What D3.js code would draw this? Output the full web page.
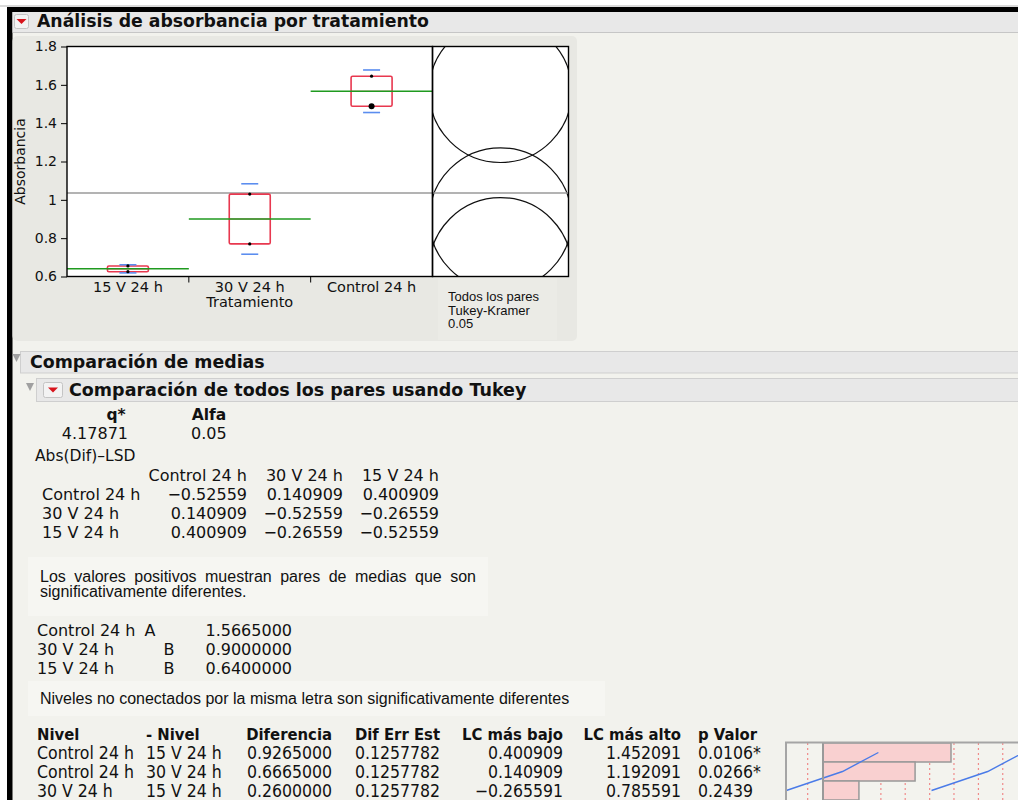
<!DOCTYPE html>
<html>
<head>
<meta charset="utf-8">
<script src="https://cdn.jsdelivr.net/npm/d3@7"></script>
<style>
  body { margin: 0; background: #f2f2ed; }
  svg { display: block; }
  text { font-family: "DejaVu Sans", "Lucida Grande", sans-serif; fill: #111; }
  .sans { font-family: "Liberation Sans", Arial, sans-serif; }
  .cond { font-family: "DejaVu Sans Condensed", "DejaVu Sans", sans-serif; font-stretch: condensed; }
</style>
</head>
<body>
<svg id="report" width="1018" height="800"></svg>
<script>
// ---- data -------------------------------------------------------------
const categories   = ["15 V 24 h", "30 V 24 h", "Control 24 h"];
const observations = [[0.655, 0.625], [1.03, 0.77], [1.645, 1.488]];
const groupMeans   = [0.64, 0.90, 1.5665];
const groupStdDevs = [0.0212, 0.1838, 0.1110];
const grandMean    = 1.0355;
const circleRadius = 0.3716;          // Tukey comparison circle radius (LSD / sqrt 2)
const yTicks       = [0.6, 0.8, 1.0, 1.2, 1.4, 1.6, 1.8];

const qStar = 4.17871;
const alpha = 0.05;

const lsdLevels = ["Control 24 h", "30 V 24 h", "15 V 24 h"];
const lsdMatrix = [
  [-0.52559, 0.140909, 0.400909],
  [0.140909, -0.52559, -0.26559],
  [0.400909, -0.26559, -0.52559]
];

const letterLevels = ["Control 24 h", "30 V 24 h", "15 V 24 h"];
const letterA      = ["A", "", ""];
const letterB      = ["", "B", "B"];
const letterMeans  = [1.5665, 0.9, 0.64];

const diffLevel  = ["Control 24 h", "Control 24 h", "30 V 24 h"];
const diffMinus  = ["15 V 24 h", "30 V 24 h", "15 V 24 h"];
const diffValue  = [0.9265, 0.6665, 0.26];
const diffStdErr = [0.1257782, 0.1257782, 0.1257782];
const diffLower  = [0.400909, 0.140909, -0.265591];
const diffUpper  = [1.452091, 1.192091, 0.785591];
const diffP      = [0.0106, 0.0266, 0.2439];
const diffRefs   = [-0.111, 0.066, 0.242, 0.419, 0.595, 0.772, 0.948, 1.125, 1.301];

// ---- helpers ----------------------------------------------------------
const fmtSigned = v => (v < 0 ? "\u2212" : "") + String(Math.abs(v));
const fmtFixed7 = v => (v < 0 ? "\u2212" : "") + Math.abs(v).toFixed(7);

const svg = d3.select("#report");

// ---- window chrome ----------------------------------------------------
svg.append("rect").attr("x", 0).attr("y", 0).attr("width", 1018).attr("height", 7).attr("fill", "#fff");
svg.append("rect").attr("x", 0).attr("y", 0).attr("width", 7).attr("height", 800).attr("fill", "#fff");
svg.append("line").attr("x1", 0).attr("x2", 1018).attr("y1", 6).attr("y2", 6).attr("stroke", "#b5b5b5");
svg.append("rect").attr("x", 7).attr("y", 7).attr("width", 1011).attr("height", 5).attr("fill", "#000");
svg.append("rect").attr("x", 7).attr("y", 7).attr("width", 5.5).attr("height", 793).attr("fill", "#000");

function outlineHeader(x, y, w, h) {
  svg.append("rect").attr("x", x).attr("y", y).attr("width", w).attr("height", h)
    .attr("fill", "#e8e8e8").attr("stroke", "#cfcfcf");
}
function redMenu(x, y, w, h) {
  svg.append("rect").attr("x", x).attr("y", y).attr("width", w).attr("height", h).attr("rx", 2)
    .attr("fill", "#f3f3f3").attr("stroke", "#c4c4c4");
  const cx = x + w / 2, cy = y + h / 2;
  svg.append("path").attr("d", `M${cx - 5},${cy - 2.5}L${cx + 5},${cy - 2.5}L${cx},${cy + 2.5}Z`).attr("fill", "#d8141c");
}
function greyTriangle(x, y) {
  svg.append("path").attr("d", `M${x},${y}L${x + 8},${y}L${x + 4},${y + 8}Z`).attr("fill", "#a0a0a0");
}

// main header
svg.append("rect").attr("x", 12.5).attr("y", 12).attr("width", 1006).attr("height", 20).attr("fill", "#e8e8e8");
svg.append("line").attr("x1", 12.5).attr("x2", 1018).attr("y1", 32.5).attr("y2", 32.5).attr("stroke", "#c6c6c6");
redMenu(14.5, 14.5, 14, 14);
svg.append("text").attr("x", 37).attr("y", 27).attr("font-size", 17.3).attr("font-weight", "bold")
  .text("Análisis de absorbancia por tratamiento");

// ---- chart panel ------------------------------------------------------
svg.append("rect").attr("x", 12.5).attr("y", 36).attr("width", 564.5).attr("height", 305).attr("rx", 5)
  .attr("fill", "#e8e8e3");
svg.append("rect").attr("x", 438).attr("y", 278).attr("width", 119).attr("height", 62).attr("fill", "#ebebe6");

const plotLeft = 67, plotRight = 432.5, circRight = 568.5, plotTop = 46.5, plotBottom = 276.5;

const y = d3.scaleLinear().domain([0.6, 1.8]).range([plotBottom, plotTop]);
const x = d3.scaleBand().domain(categories).range([plotLeft, plotRight]);

svg.append("rect").attr("x", plotLeft).attr("y", plotTop).attr("width", circRight - plotLeft)
  .attr("height", plotBottom - plotTop).attr("fill", "#fff");

// comparison circles panel
const circCx = (plotRight + circRight) / 2;
const pxPerUnit = y(0) - y(1);
svg.append("clipPath").attr("id", "circClip").append("rect")
  .attr("x", plotRight).attr("y", plotTop).attr("width", circRight - plotRight).attr("height", plotBottom - plotTop);
svg.append("g").attr("clip-path", "url(#circClip)")
  .selectAll("circle").data(groupMeans).join("circle")
  .attr("cx", circCx).attr("cy", d => y(d)).attr("r", circleRadius * pxPerUnit)
  .attr("fill", "none").attr("stroke", "#111").attr("stroke-width", 1.2);

// grand mean
svg.append("line").attr("x1", plotLeft).attr("x2", circRight).attr("y1", y(grandMean)).attr("y2", y(grandMean))
  .attr("stroke", "#9a9a9a").attr("stroke-width", 1.5);

// group marks
const boxW = 41, sdW = 17;
const groups = svg.append("g").selectAll("g").data(categories).join("g");
groups.each(function (cat, i) {
  const g = d3.select(this);
  const cx = x(cat) + x.bandwidth() / 2;
  const lo = d3.min(observations[i]), hi = d3.max(observations[i]);
  // quantile box
  g.append("rect").attr("x", cx - boxW / 2).attr("y", y(hi)).attr("width", boxW).attr("height", y(lo) - y(hi))
    .attr("rx", 1.5).attr("fill", "none").attr("stroke", "#e8384f").attr("stroke-width", 1.6);
  g.append("line").attr("x1", cx - boxW / 2).attr("x2", cx + boxW / 2)
    .attr("y1", y(d3.median(observations[i]))).attr("y2", y(d3.median(observations[i])))
    .attr("stroke", "#e8384f").attr("stroke-width", 1.2);
  // std dev lines
  [groupMeans[i] - groupStdDevs[i], groupMeans[i] + groupStdDevs[i]].forEach(v => {
    g.append("line").attr("x1", cx - sdW / 2).attr("x2", cx + sdW / 2).attr("y1", y(v)).attr("y2", y(v))
      .attr("stroke", "#5b8def").attr("stroke-width", 1.6);
  });
  // mean line across the level
  g.append("line").attr("x1", x(cat)).attr("x2", x(cat) + x.bandwidth())
    .attr("y1", y(groupMeans[i])).attr("y2", y(groupMeans[i]))
    .attr("stroke", "#1f9a1f").attr("stroke-width", 1.5);
  // observations
  g.selectAll("circle").data(observations[i]).join("circle")
    .attr("cx", cx).attr("cy", d => y(d))
    .attr("r", (d, j) => (cat === "Control 24 h" && j === 1) ? 3 : 1.6)
    .attr("fill", "#000");
});

// frames
svg.append("rect").attr("x", plotLeft).attr("y", plotTop).attr("width", plotRight - plotLeft)
  .attr("height", plotBottom - plotTop).attr("fill", "none").attr("stroke", "#000").attr("stroke-width", 1.4);
svg.append("rect").attr("x", plotRight).attr("y", plotTop).attr("width", circRight - plotRight)
  .attr("height", plotBottom - plotTop).attr("fill", "none").attr("stroke", "#000").attr("stroke-width", 1.4);

// y axis
const yAxis = svg.append("g").attr("transform", `translate(${plotLeft},0)`)
  .call(d3.axisLeft(y).tickValues(yTicks).tickSize(6).tickPadding(4).tickFormat(d => String(+d.toFixed(1))));
yAxis.select(".domain").remove();
yAxis.selectAll("line").attr("stroke", "#000");
yAxis.selectAll("text").attr("font-size", 14).attr("font-family", "DejaVu Sans").attr("fill", "#111");

svg.append("text").attr("transform", `translate(25,${(plotTop + plotBottom) / 2}) rotate(-90)`)
  .attr("text-anchor", "middle").attr("font-size", 14).text("Absorbancia");

// x axis
svg.append("g").selectAll("line").data(categories.slice(1)).join("line")
  .attr("x1", d => x(d)).attr("x2", d => x(d)).attr("y1", plotBottom).attr("y2", plotBottom + 6)
  .attr("stroke", "#000");
svg.append("g").selectAll("text").data(categories).join("text")
  .attr("x", d => x(d) + x.bandwidth() / 2).attr("y", 292).attr("text-anchor", "middle")
  .attr("font-size", 14.5).text(d => d);
svg.append("text").attr("x", x("30 V 24 h") + x.bandwidth() / 2).attr("y", 307).attr("text-anchor", "middle")
  .attr("font-size", 14.5).text("Tratamiento");

// circle panel caption
["Todos los pares", "Tukey-Kramer", String(alpha)].forEach((t, i) => {
  svg.append("text").attr("class", "sans").attr("x", 448).attr("y", 301 + i * 13.5).attr("font-size", 13).text(t);
});

// ---- comparison of means section --------------------------------------
outlineHeader(20.5, 351.5, 1000, 21.5);
greyTriangle(12.5, 354);
svg.append("text").attr("x", 30).attr("y", 368).attr("font-size", 17.4).attr("font-weight", "bold")
  .text("Comparación de medias");

outlineHeader(36.5, 378.5, 1000, 23);
greyTriangle(26, 383);
redMenu(43.5, 382.5, 19, 15);
svg.append("text").attr("x", 69).attr("y", 396).attr("font-size", 17.5).attr("font-weight", "bold")
  .text("Comparación de todos los pares usando Tukey");

// q* / alpha
svg.append("text").attr("x", 116).attr("y", 420).attr("text-anchor", "middle").attr("font-size", 15.5)
  .attr("font-weight", "bold").text("q*");
svg.append("text").attr("x", 209).attr("y", 420).attr("text-anchor", "middle").attr("font-size", 15.5)
  .attr("font-weight", "bold").text("Alfa");
svg.append("text").attr("x", 128).attr("y", 439).attr("text-anchor", "end").attr("font-size", 16).text(String(qStar));
svg.append("text").attr("x", 191).attr("y", 439).attr("font-size", 16).text(String(alpha));

// Abs(Dif)-LSD matrix
svg.append("text").attr("x", 35).attr("y", 461).attr("font-size", 15.5).text("Abs(Dif)\u2013LSD");
const colRight = [247, 343, 439];
const matrixRows = [500, 519, 538];
lsdLevels.forEach((lv, j) => {
  svg.append("text").attr("x", colRight[j]).attr("y", 481).attr("text-anchor", "end").attr("font-size", 16).text(lv);
});
lsdLevels.forEach((lv, i) => {
  svg.append("text").attr("x", 42).attr("y", matrixRows[i]).attr("font-size", 16).text(lv);
  lsdMatrix[i].forEach((v, j) => {
    svg.append("text").attr("x", colRight[j]).attr("y", matrixRows[i]).attr("text-anchor", "end")
      .attr("font-size", 16).text(fmtSigned(v));
  });
});

// explanatory note (justified first line)
svg.append("rect").attr("x", 28).attr("y", 557).attr("width", 460).attr("height", 59).attr("fill", "#f6f6f2");
function justifiedLine(str, x0, x1, yy, size) {
  const words = str.split(" ");
  const g = svg.append("g");
  const nodes = words.map(w => g.append("text").attr("class", "sans").attr("font-size", size).attr("y", yy).text(w));
  const widths = nodes.map(n => n.node().getComputedTextLength());
  const gap = (x1 - x0 - d3.sum(widths)) / (words.length - 1);
  let cx = x0;
  nodes.forEach((n, i) => { n.attr("x", cx); cx += widths[i] + gap; });
}
justifiedLine("Los valores positivos muestran pares de medias que son", 40, 476, 582, 16);
svg.append("text").attr("class", "sans").attr("x", 40).attr("y", 597).attr("font-size", 16)
  .text("significativamente diferentes.");

// connecting letters report
const letterRows = [636, 655, 674];
letterLevels.forEach((lv, i) => {
  svg.append("text").attr("x", 37).attr("y", letterRows[i]).attr("font-size", 16).text(lv);
  svg.append("text").attr("x", 150).attr("y", letterRows[i]).attr("text-anchor", "middle").attr("font-size", 16).text(letterA[i]);
  svg.append("text").attr("x", 169).attr("y", letterRows[i]).attr("text-anchor", "middle").attr("font-size", 16).text(letterB[i]);
  svg.append("text").attr("x", 292).attr("y", letterRows[i]).attr("text-anchor", "end").attr("font-size", 16)
    .text(fmtFixed7(letterMeans[i]));
});

svg.append("rect").attr("x", 28).attr("y", 681).attr("width", 577).attr("height", 35).attr("fill", "#f6f6f2");
svg.append("text").attr("class", "sans").attr("x", 40).attr("y", 704).attr("font-size", 16)
  .text("Niveles no conectados por la misma letra son significativamente diferentes");

// ordered differences table
const cols = [
  { head: "Nivel",       x: 37,  anchor: "start", vals: diffLevel },
  { head: "- Nivel",     x: 146, anchor: "start", vals: diffMinus },
  { head: "Diferencia",  x: 332, anchor: "end",   vals: diffValue.map(fmtFixed7) },
  { head: "Dif Err Est", x: 440, anchor: "end",   vals: diffStdErr.map(fmtFixed7) },
  { head: "LC más bajo", x: 563, anchor: "end",   vals: diffLower.map(fmtSigned) },
  { head: "LC más alto", x: 681, anchor: "end",   vals: diffUpper.map(fmtSigned) },
  { head: "p Valor",     x: 698, anchor: "start", vals: diffP.map(p => String(p) + (p < alpha ? "*" : "")) }
];
const tableRows = [759, 778, 797];
cols.forEach(c => {
  svg.append("text").attr("class", "cond").attr("x", c.x).attr("y", 740)
    .attr("text-anchor", c.anchor).attr("font-size", 16.5).attr("font-weight", "bold").text(c.head);
  c.vals.forEach((v, i) => {
    svg.append("text").attr("class", "cond").attr("x", c.x).attr("y", tableRows[i])
      .attr("text-anchor", c.anchor).attr("font-size", 17.5).text(v);
  });
});

// difference bars with confidence limits
const dx = d3.scaleLinear().domain([0, 0.9265]).range([823, 951]);
const dy = d3.scaleBand().domain(d3.range(diffValue.length)).range([743, 800]);
const mini = svg.append("g");
mini.append("clipPath").attr("id", "miniClip").append("rect").attr("x", 785).attr("y", 743).attr("width", 233).attr("height", 57);
mini.append("rect").attr("x", 785).attr("y", 742).attr("width", 240).attr("height", 70).attr("fill", "#f3f3ee");
const miniInner = mini.append("g").attr("clip-path", "url(#miniClip)");
miniInner.selectAll("line.ref").data(diffRefs).join("line").attr("class", "ref")
  .attr("x1", d => dx(d)).attr("x2", d => dx(d)).attr("y1", 743).attr("y2", 800)
  .attr("stroke", "#f08a8a").attr("stroke-width", 1.2).attr("stroke-dasharray", "2,3");
miniInner.selectAll("rect.bar").data(diffValue).join("rect").attr("class", "bar")
  .attr("x", dx(0)).attr("y", (d, i) => dy(i)).attr("width", d => dx(d) - dx(0)).attr("height", dy.bandwidth())
  .attr("fill", "#f9d0d0").attr("stroke", "#999").attr("stroke-width", 1.5);
const limitLine = d3.line().x(d => dx(d[0])).y(d => dy(d[1]) + dy.bandwidth() / 2);
[diffLower, diffUpper].forEach(lim => {
  miniInner.append("path").attr("d", limitLine(lim.map((v, i) => [v, i])))
    .attr("fill", "none").attr("stroke", "#4a7be8").attr("stroke-width", 1.4);
});
mini.append("line").attr("x1", dx(0)).attr("x2", dx(0)).attr("y1", 742).attr("y2", 800).attr("stroke", "#999").attr("stroke-width", 2);
mini.append("path").attr("d", "M786,800V742.5H1018").attr("fill", "none").attr("stroke", "#a5a5a5").attr("stroke-width", 2);
</script>
</body>
</html>
